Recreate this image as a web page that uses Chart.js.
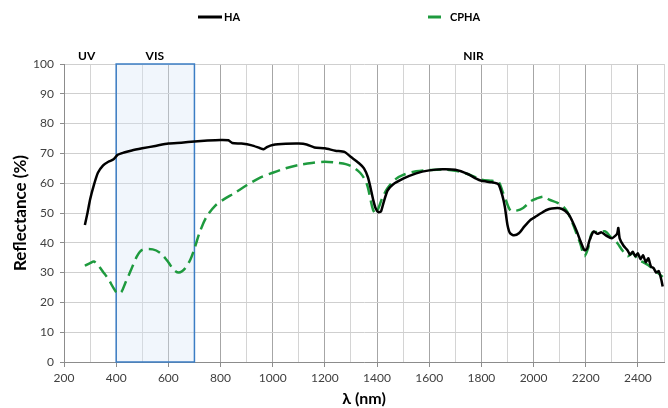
<!DOCTYPE html>
<html>
<head>
<meta charset="utf-8">
<script src="https://cdn.jsdelivr.net/npm/chart.js@4.4.1/dist/chart.umd.min.js"></script>
<style>
  html, body { margin: 0; padding: 0; background: #fff; }
  #wrap { width: 668px; height: 408px; position: relative; }
</style>
</head>
<body>
<div id="wrap"><canvas id="reflChart"></canvas></div>
<script>
// dados
const haNm = [280, 290, 300, 315, 330, 350, 370, 390, 405, 430, 460, 500, 550, 600, 650, 700, 750, 800, 830, 845, 880, 920, 950, 965, 980, 1000, 1050, 1100, 1130, 1160, 1200, 1240, 1275, 1300, 1330, 1350, 1365, 1375, 1385, 1395, 1405, 1415, 1425, 1440, 1460, 1500, 1550, 1600, 1650, 1700, 1750, 1780, 1800, 1840, 1865, 1880, 1890, 1900, 1910, 1925, 1945, 1965, 1990, 2010, 2030, 2050, 2070, 2100, 2120, 2135, 2150, 2165, 2180, 2195, 2205, 2215, 2230, 2245, 2260, 2280, 2300, 2320, 2325, 2330, 2345, 2360, 2370, 2380, 2390, 2400, 2410, 2420, 2430, 2440, 2450, 2460, 2470, 2480, 2490, 2495];
const haVal = [46, 50, 54.5, 59.5, 63.5, 66, 67.2, 68, 69.5, 70.3, 71, 71.7, 72.5, 73.3, 73.6, 74, 74.3, 74.5, 74.4, 73.5, 73.3, 72.7, 71.8, 71.4, 72.2, 72.8, 73.2, 73.3, 73, 72, 71.7, 70.9, 70.5, 68.8, 66.8, 65, 62, 58.5, 54.5, 51.5, 50.3, 50.5, 53.5, 57.5, 59.5, 61.5, 63.3, 64.3, 64.7, 64.5, 63, 61.5, 60.8, 60.3, 59.7, 56, 52, 46, 43.2, 42.5, 43.3, 45.5, 47.8, 48.9, 50, 51, 51.5, 51.6, 50.8, 49.5, 47, 44, 40.5, 37.5, 38, 41, 43.8, 43, 43.5, 42.3, 41.5, 43, 45, 41.5, 39, 37.5, 36, 37, 35.5, 36.5, 34.5, 35.8, 33.5, 34.8, 32, 31.5, 30, 30.5, 27.5, 25.3];

const cphaNm = [280, 300, 315, 330, 350, 370, 390, 405, 420, 435, 455, 480, 500, 540, 570, 600, 620, 640, 665, 685, 700, 720, 745, 780, 820, 850, 900, 950, 1000, 1050, 1100, 1150, 1200, 1250, 1280, 1310, 1335, 1355, 1365, 1375, 1385, 1395, 1405, 1420, 1440, 1470, 1500, 1550, 1600, 1650, 1700, 1750, 1800, 1840, 1865, 1880, 1895, 1912, 1935, 1960, 1990, 2010, 2040, 2060, 2090, 2110, 2130, 2150, 2165, 2180, 2195, 2210, 2225, 2250, 2275, 2300, 2320, 2340, 2360, 2380, 2400, 2420, 2440, 2460, 2475, 2495];
const cphaVal = [32.3, 33.2, 33.7, 32.5, 30.2, 27.8, 24.8, 23, 23.5, 26.5, 30.5, 35.5, 37.6, 37.8, 36.5, 33.5, 31, 30, 31.5, 34.5, 38, 43.5, 48.5, 52.5, 55, 56.5, 59.3, 61.8, 63.5, 65, 66.1, 66.8, 67.2, 66.8, 66.4, 65.3, 63.5, 61, 58.5, 54.5, 51, 49.8, 51.5, 55, 58.3, 61.3, 62.8, 64, 64.4, 64.6, 64.2, 63, 61.2, 60.8, 60.5, 57.5, 54, 50.8, 50.8, 51.7, 54, 54.8, 55.5, 54.5, 53.5, 52.5, 50.3, 46.5, 43, 39.5, 35.5, 38.5, 43.5, 43.5, 43.8, 41.5, 40, 37.5, 35.5, 36.5, 34.5, 33.5, 32.5, 31, 30, 28.5];

const serieNomes = ['HA', 'CPHA'];
const faixaNomes = ['UV', 'VIS', 'NIR'];
const faixaPos = [287, 548, 1770];   // posição (nm) dos rótulos das faixas
const visInicio = 400, visFim = 700;

const xMin = 200, xMax = 2500;
const yMin = 0, yMax = 100;

const corHA = '#000000';
const corCPHA = '#1e9a3e';
const fonte = 'Lato, "Liberation Sans", sans-serif';

function pontos(xs, ys) {
    return xs.map(function (x, i) { return { x: x, y: ys[i] }; });
}

// caixa VIS + rótulos de faixa + legenda
const extras = {
    id: 'extras',
    beforeDatasetsDraw(chart) {
        const ctx = chart.ctx;
        const x = chart.scales.x, y = chart.scales.y;
        const x1 = x.getPixelForValue(visInicio), x2 = x.getPixelForValue(visFim);
        const y1 = y.getPixelForValue(yMax), y2 = y.getPixelForValue(yMin);
        ctx.save();
        ctx.fillStyle = 'rgba(214, 230, 245, 0.35)';
        ctx.fillRect(x1, y1, x2 - x1, y2 - y1);
        ctx.strokeStyle = '#3b7dc4';
        ctx.lineWidth = 1.5;
        ctx.strokeRect(x1, y1, x2 - x1, y2 - y1);
        ctx.restore();
    },
    afterDraw(chart) {
        const ctx = chart.ctx;
        const x = chart.scales.x;
        ctx.save();
        ctx.fillStyle = '#000';
        ctx.font = 'bold 12px ' + fonte;
        ctx.textAlign = 'center';
        ctx.textBaseline = 'middle';
        faixaNomes.forEach(function (nome, i) {
            ctx.fillText(nome, x.getPixelForValue(faixaPos[i]), 56);
        });

        // legenda
        ctx.font = 'bold 11px ' + fonte;
        ctx.textAlign = 'left';
        ctx.lineWidth = 3;
        ctx.strokeStyle = corHA;
        ctx.beginPath(); ctx.moveTo(198, 17); ctx.lineTo(222, 17); ctx.stroke();
        ctx.fillText(serieNomes[0], 224, 17);
        ctx.strokeStyle = corCPHA;
        ctx.beginPath(); ctx.moveTo(428, 17); ctx.lineTo(441, 17); ctx.stroke();
        ctx.fillText(serieNomes[1], 450, 17);
        ctx.restore();
    }
};

const ctx = document.getElementById('reflChart').getContext('2d');
new Chart(ctx, {
    type: 'line',
    data: {
        datasets: [
            {
                label: serieNomes[0],
                data: pontos(haNm, haVal),
                borderColor: corHA,
                borderWidth: 2.5,
                pointRadius: 0,
                tension: 0.2,
                fill: false
            },
            {
                label: serieNomes[1],
                data: pontos(cphaNm, cphaVal),
                borderColor: corCPHA,
                borderWidth: 2.5,
                borderDash: [12, 6],
                pointRadius: 0,
                tension: 0.3,
                fill: false
            }
        ]
    },
    options: {
        responsive: true,
        maintainAspectRatio: false,
        animation: false,
        layout: { padding: { top: 64, right: 0, left: 0, bottom: 0 } },
        plugins: {
            legend: { display: false },
            tooltip: { enabled: false }
        },
        scales: {
            x: {
                type: 'linear',
                min: xMin,
                max: xMax,
                afterFit: function (s) { s.height = 46; },
                ticks: {
                    stepSize: 100,
                    autoSkip: false,
                    maxRotation: 0,
                    color: '#404040',
                    font: { family: fonte, size: 12 },
                    padding: 4,
                    callback: function (v) { return v % 200 === 0 ? v : ''; }
                },
                grid: {
                    color: function (c) { return c.tick && c.tick.value % 200 === 0 ? '#a6a6a6' : '#d4d4d4'; },
                    tickLength: 5,
                    tickColor: function (c) { return c.tick && c.tick.value % 200 === 0 ? '#8c8c8c' : 'rgba(0,0,0,0)'; }
                },
                border: { color: '#8c8c8c' },
                title: {
                    display: true,
                    text: 'λ (nm)',
                    color: '#000',
                    font: { family: fonte, size: 16, weight: 'bold' },
                    padding: { top: 0, bottom: 0 }
                }
            },
            y: {
                min: yMin,
                max: yMax,
                afterFit: function (s) { s.width = 64; },
                ticks: {
                    stepSize: 5,
                    color: '#404040',
                    font: { family: fonte, size: 12 },
                    padding: 6,
                    callback: function (v) { return v % 10 === 0 ? v : ''; }
                },
                grid: {
                    color: '#cfcfcf',
                    tickLength: 4,
                    tickColor: function (c) { return c.tick && c.tick.value % 10 === 0 ? '#8c8c8c' : 'rgba(0,0,0,0)'; }
                },
                border: { color: '#8c8c8c' },
                title: {
                    display: true,
                    text: 'Reflectance (%)',
                    color: '#000',
                    font: { family: fonte, size: 17, weight: 'bold' },
                    padding: { top: 10, bottom: 0 }
                }
            }
        }
    },
    plugins: [extras]
});
</script>
</body>
</html>
